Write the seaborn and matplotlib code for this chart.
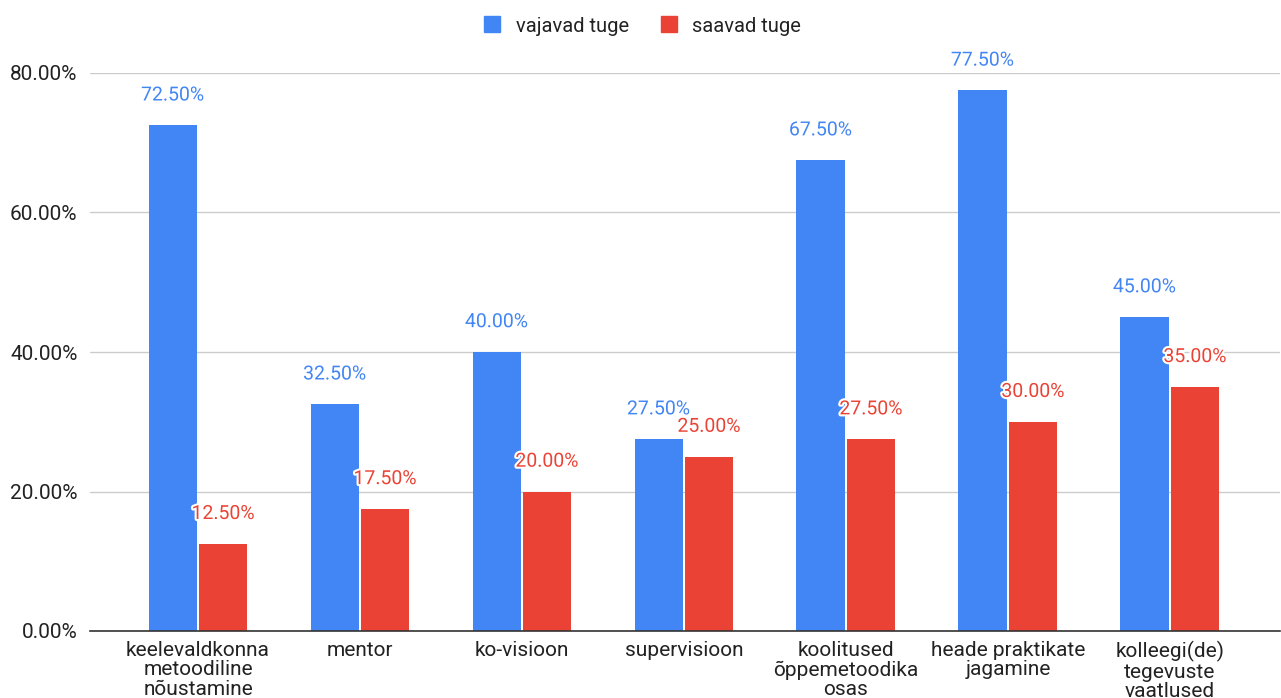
import matplotlib
matplotlib.use("Agg")
import matplotlib.pyplot as plt
import matplotlib.patheffects as pe
from matplotlib.lines import Line2D
import seaborn as sns
import pandas as pd

categories = [
    "keelevaldkonna\nmetoodiline\nnõustamine",
    "mentor",
    "ko-visioon",
    "supervisioon",
    "koolitused\nõppemetoodika\nosas",
    "heade praktikate\njagamine",
    "kolleegi(de)\ntegevuste\nvaatlused",
]
vajavad = [72.5, 32.5, 40.0, 27.5, 67.5, 77.5, 45.0]
saavad = [12.5, 17.5, 20.0, 25.0, 27.5, 30.0, 35.0]
series_names = ["vajavad tuge", "saavad tuge"]
yticks = [0, 20, 40, 60, 80]
colors = ["#4285F4", "#EA4335"]

df = pd.DataFrame({
    "cat": categories * 2,
    "val": vajavad + saavad,
    "series": [series_names[0]] * len(categories) + [series_names[1]] * len(categories),
})

sns.set_theme(style="white")
plt.rcParams["font.family"] = ["Roboto", "DejaVu Sans"]

fig = plt.figure(figsize=(12.81, 6.98), dpi=100)
ax = fig.add_axes([90 / 1281, 1 - 631 / 698, 1190 / 1281, (631 - 73) / 698])

sns.barplot(data=df, x="cat", y="val", hue="series", palette=colors,
            width=0.623, gap=0.04, ax=ax, legend=False, saturation=1,
            edgecolor="none")

ax.set_ylim(0, 80)
ax.set_xlim(-0.667, 6.68)
ax.set_yticks(yticks)
ax.set_yticklabels([f"{t:.2f}%" for t in yticks], fontsize=15, color="#222222")
ax.tick_params(axis="x", labelsize=15, colors="#222222", length=0, pad=7)
ax.tick_params(axis="y", length=0, pad=9)
for t in ax.get_xticklabels():
    t.set_linespacing(1.05)
ax.set_xlabel("")
ax.set_ylabel("")
for s in ["top", "right", "left"]:
    ax.spines[s].set_visible(False)
ax.spines["bottom"].set_color("#333333")
ax.spines["bottom"].set_linewidth(1.2)
ax.yaxis.grid(True, color="#cccccc", linewidth=1)
ax.set_axisbelow(True)

for container, col in zip(ax.containers, colors):
    labels = ax.bar_label(container, fmt="%.2f%%", padding=15, fontsize=14,
                          color=col, clip_on=False)
    for t in labels:
        t.set_path_effects([pe.withStroke(linewidth=3, foreground="white")])

handles = [Line2D([0], [0], marker="s", linestyle="none", markersize=12,
                  markerfacecolor=c, markeredgecolor=c) for c in colors]
fig.legend(handles, series_names, loc="center", bbox_to_anchor=(0.497, 1 - 26 / 698),
           ncol=2, frameon=False, fontsize=14.5, handletextpad=0.15, columnspacing=1.0,
           labelcolor="#222222")

fig.savefig("out.png", dpi=100)
